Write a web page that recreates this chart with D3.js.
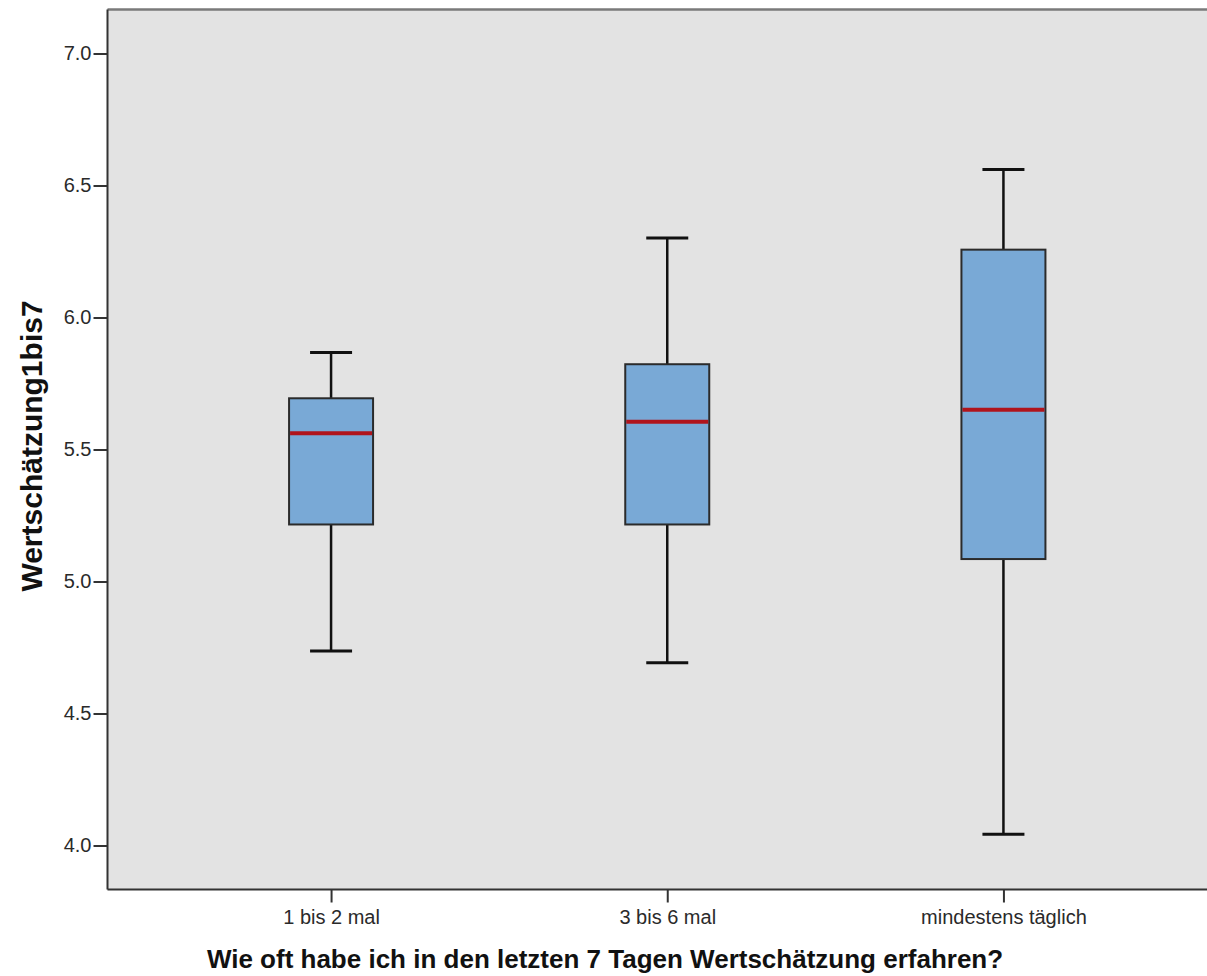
<!DOCTYPE html>
<html>
<head>
<meta charset="utf-8">
<script src="https://cdn.jsdelivr.net/npm/d3@7"></script>
<style>
  body { margin: 0; background: #fff; }
  svg { display: block; }
</style>
</head>
<body>
<svg id="chart" width="1207" height="976"></svg>
<script>
// data
const categories = ["1 bis 2 mal", "3 bis 6 mal", "mindestens täglich"];
const whiskerLow = [4.737, 4.692, 4.043];
const q1 = [5.216, 5.216, 5.085];
const median = [5.562, 5.605, 5.651];
const q3 = [5.694, 5.823, 6.257];
const whiskerHigh = [5.867, 6.301, 6.561];
const yTicks = [4.0, 4.5, 5.0, 5.5, 6.0, 6.5, 7.0];

const svg = d3.select("#chart");

// plot frame (right edge runs past the window, like the reference)
const frame = { left: 107.5, top: 9.5, right: 1227, bottom: 889.5 };
const font = "'Liberation Sans', Arial, sans-serif";

const y = d3.scaleLinear().domain([3.8333, 7.1667]).range([frame.bottom, frame.top]);
const x = d3.scalePoint().domain(categories).range([frame.left, frame.right]).padding(0.665);

const boxes = categories.map((c, i) => ({
  cat: c, lo: whiskerLow[i], q1: q1[i], med: median[i], q3: q3[i], hi: whiskerHigh[i]
}));

svg.append("rect")
  .attr("x", frame.left).attr("y", frame.top)
  .attr("width", frame.right - frame.left).attr("height", frame.bottom - frame.top)
  .attr("fill", "#e3e3e3");

// top border is lighter grey
svg.append("line")
  .attr("x1", frame.left).attr("x2", frame.right).attr("y1", frame.top).attr("y2", frame.top)
  .attr("stroke", "#7a7a7a").attr("stroke-width", 2.5);

// y axis
const yAxis = d3.axisLeft(y).tickValues(yTicks).tickFormat(d3.format(".1f"))
  .tickSize(14).tickPadding(2);
const gy = svg.append("g").attr("transform", `translate(${frame.left},0)`).call(yAxis);
gy.select(".domain").remove();
gy.selectAll(".tick line").attr("stroke", "#333").attr("stroke-width", 2);
gy.selectAll(".tick text")
  .attr("fill", "#2a2a2a")
  .style("font-family", font)
  .style("font-size", "20px");

// x axis
const xAxis = d3.axisBottom(x).tickSize(13).tickPadding(7);
const gx = svg.append("g").attr("transform", `translate(0,${frame.bottom})`).call(xAxis);
gx.select(".domain").remove();
gx.selectAll(".tick line").attr("stroke", "#333").attr("stroke-width", 2);
gx.selectAll(".tick text")
  .attr("fill", "#2a2a2a")
  .style("font-family", font)
  .style("font-size", "20px");

// left and bottom frame lines
svg.append("line")
  .attr("x1", frame.left).attr("x2", frame.left).attr("y1", frame.top).attr("y2", frame.bottom)
  .attr("stroke", "#333").attr("stroke-width", 2);
svg.append("line")
  .attr("x1", frame.left).attr("x2", frame.right).attr("y1", frame.bottom).attr("y2", frame.bottom)
  .attr("stroke", "#333").attr("stroke-width", 2);

// boxplots
const boxW = 84, capW = 42;
const g = svg.append("g");

g.selectAll(".whisker")
  .data(boxes).enter().append("line")
  .attr("x1", d => x(d.cat)).attr("x2", d => x(d.cat))
  .attr("y1", d => y(d.hi)).attr("y2", d => y(d.lo))
  .attr("stroke", "#111").attr("stroke-width", 2.5);

g.selectAll(".capHi")
  .data(boxes).enter().append("line")
  .attr("x1", d => x(d.cat) - capW / 2).attr("x2", d => x(d.cat) + capW / 2)
  .attr("y1", d => y(d.hi)).attr("y2", d => y(d.hi))
  .attr("stroke", "#111").attr("stroke-width", 3);

g.selectAll(".capLo")
  .data(boxes).enter().append("line")
  .attr("x1", d => x(d.cat) - capW / 2).attr("x2", d => x(d.cat) + capW / 2)
  .attr("y1", d => y(d.lo)).attr("y2", d => y(d.lo))
  .attr("stroke", "#111").attr("stroke-width", 3);

g.selectAll(".box")
  .data(boxes).enter().append("rect")
  .attr("x", d => x(d.cat) - boxW / 2)
  .attr("y", d => y(d.q3))
  .attr("width", boxW)
  .attr("height", d => y(d.q1) - y(d.q3))
  .attr("fill", "#79a9d6")
  .attr("stroke", "#2b2b2b").attr("stroke-width", 2);

g.selectAll(".median")
  .data(boxes).enter().append("line")
  .attr("x1", d => x(d.cat) - boxW / 2 + 1).attr("x2", d => x(d.cat) + boxW / 2 - 1)
  .attr("y1", d => y(d.med)).attr("y2", d => y(d.med))
  .attr("stroke", "#b0141c").attr("stroke-width", 4);

// axis titles
svg.append("text")
  .attr("x", 605).attr("y", 968)
  .attr("text-anchor", "middle")
  .attr("fill", "#111")
  .style("font-family", font)
  .style("font-weight", "bold")
  .style("font-size", "26px")
  .text("Wie oft habe ich in den letzten 7 Tagen Wertschätzung erfahren?");

svg.append("text")
  .attr("transform", "translate(42,446) rotate(-90)")
  .attr("text-anchor", "middle")
  .attr("fill", "#111")
  .style("font-family", font)
  .style("font-weight", "bold")
  .style("font-size", "30px")
  .text("Wertschätzung1bis7");
</script>
</body>
</html>
